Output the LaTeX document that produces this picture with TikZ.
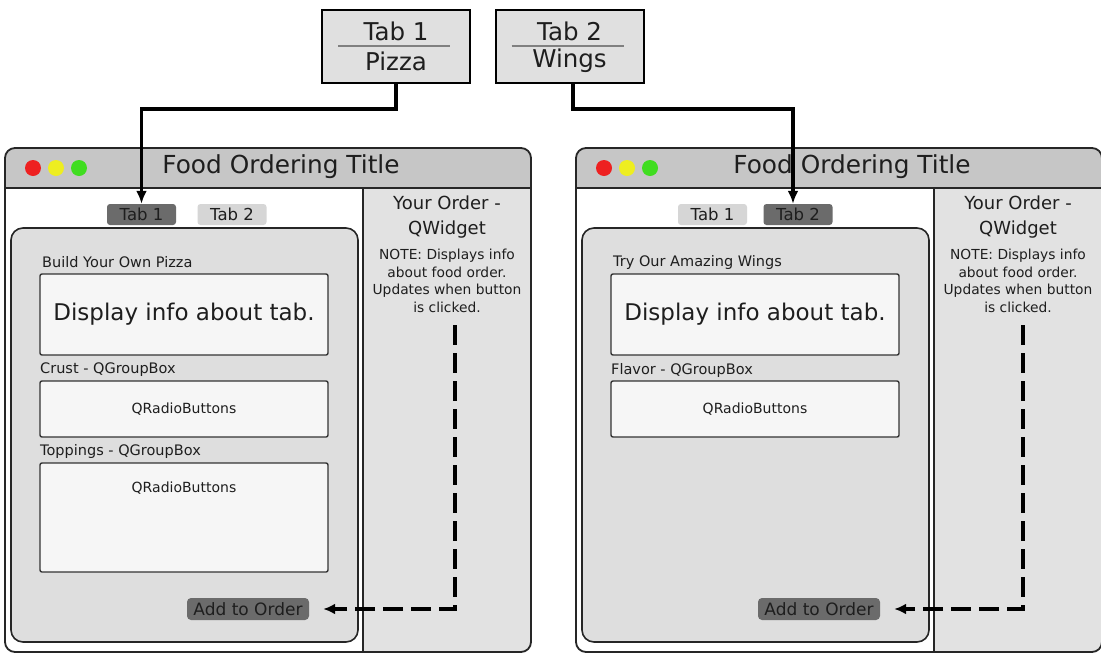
\documentclass[tikz,border=0pt]{standalone}
\usepackage{fontspec}
\setmainfont{DejaVu Sans}
\usepackage{tikz}
\usetikzlibrary{arrows.meta,positioning}
\usepackage{xcolor}
\definecolor{barGray}{HTML}{C6C6C6}
\definecolor{panelGray}{HTML}{E2E2E2}
\definecolor{innerGray}{HTML}{DEDEDE}
\definecolor{cardGray}{HTML}{E0E0E0}
\definecolor{boxWhite}{HTML}{F6F6F6}
\definecolor{activeTab}{HTML}{6B6B6B}
\definecolor{idleTab}{HTML}{D6D6D6}
\definecolor{inkGray}{HTML}{1E1E1E}
\definecolor{lightRed}{HTML}{EE2020}
\definecolor{lightYellow}{HTML}{EEEE20}
\definecolor{lightGreen}{HTML}{40DD20}

\begin{document}
\begin{tikzpicture}[x=1pt, y=-1pt,
        text=inkGray,
        tabcard/.style={rectangle, draw=black, line width=2pt, fill=cardGray, minimum width=148pt, minimum height=73pt},
        cardtext/.style={font=\fontsize{24.5}{28}\selectfont},
        frame/.style={draw=black!85, line width=1.8pt},
        wintitle/.style={font=\fontsize{24.8}{29}\selectfont},
        tabon/.style={rectangle, rounded corners=3pt, fill=activeTab, minimum width=69pt, minimum height=21pt, inner sep=0pt, font=\fontsize{16.5}{19}\selectfont},
        taboff/.style={tabon, fill=idleTab},
        panel/.style={draw=black!85, line width=1.6pt, fill=innerGray, rounded corners=12pt},
        smalltext/.style={anchor=west, inner sep=0pt, font=\fontsize{14.5}{17}\selectfont},
        infobox/.style={rectangle, rounded corners=2pt, draw=black!80, line width=1.4pt, fill=boxWhite, minimum width=288pt, inner sep=0pt},
        addbtn/.style={rectangle, rounded corners=4pt, fill=activeTab, minimum width=122pt, minimum height=22pt, inner sep=0pt, font=\fontsize{17}{20}\selectfont},
        ordertext/.style={align=center, font=\fontsize{18}{25}\selectfont},
        notetext/.style={align=center, font=\fontsize{13.8}{17.5}\selectfont},
        conn/.style={-{Latex[length=13pt,width=11pt]}, line width=3.4pt, black},
        dasharr/.style={-{Latex[length=12pt,width=11pt]}, line width=3.6pt, black, dash pattern=on 20pt off 8pt, shorten >=14pt},
    ]
    \useasboundingbox (0,0) rectangle (1101,654);

    % Tab cards (top)
    \node[tabcard] (pizzacard) at (396,46.5) {};
    \node[tabcard] (wingscard) at (569.5,46.5) {};
    \node[cardtext] (pizzatab) at (396,31) {Tab 1};
    \node[cardtext] (pizzaname) at (396,61) {Pizza};
    \node[cardtext] (wingstab) at (569.5,31) {Tab 2};
    \node[cardtext] (wingsname) at (569.5,61) {Wings};
    \draw[gray, line width=1.3pt] (338,46) -- (450,46);
    \draw[gray, line width=1.3pt] (511.5,46) -- (623.5,46);

    % Left window
    \begin{scope}
        \clip[rounded corners=10pt] (5,148) rectangle (531,652);
        \fill[white] (5,148) rectangle (531,652);
        \fill[barGray] (5,148) rectangle (531,188);
        \fill[panelGray] (363,188) rectangle (531,652);
    \end{scope}
    \draw[frame] (5,188) -- (531,188);
    \draw[frame] (363,188) -- (363,652);
    \draw[frame, rounded corners=10pt] (5,148) rectangle (531,652);
    \fill[lightRed] (33,168) circle (8pt);
    \fill[lightYellow] (56,168) circle (8pt);
    \fill[lightGreen] (79,168) circle (8pt);
    \node[wintitle] (ltitle) at (281,167) {Food Ordering Title};

    \node[tabon] (ltabone) at (141.5,214.5) {Tab 1};
    \node[taboff] (ltabtwo) at (232,214.5) {Tab 2};
    \draw[panel] (11,228) rectangle (358,642);

    \node[smalltext] (lhead) at (42,262) {Build Your Own Pizza};
    \node[infobox, minimum height=81pt, font=\fontsize{23}{27}\selectfont] (ldisp) at (184,314.5) {Display info about tab.};
    \node[smalltext] (lcrustlbl) at (40,370) {Crust - QGroupBox};
    \node[infobox, minimum height=56pt, font=\fontsize{14}{17}\selectfont] (lcrust) at (184,409) {QRadioButtons};
    \node[smalltext] (ltoplbl) at (40,451) {Toppings - QGroupBox};
    \node[infobox, minimum height=109pt] (ltop) at (184,517.5) {};
    \node[font=\fontsize{14}{17}\selectfont] (ltopradio) at (184,488) {QRadioButtons};
    \node[addbtn] (ladd) at (248,609) {Add to Order};

    \node[ordertext] (lorder) at (447,217) {Your Order -\\QWidget};
    \node[notetext] (lnote) at (447,281) {NOTE: Displays info\\about food order.\\Updates when button\\is clicked.};
    \coordinate (ldash) at (455,325);

    % Right window
    \begin{scope}[xshift=571pt]
        \begin{scope}
            \clip[rounded corners=10pt] (5,148) rectangle (531,652);
            \fill[white] (5,148) rectangle (531,652);
            \fill[barGray] (5,148) rectangle (531,188);
            \fill[panelGray] (363,188) rectangle (531,652);
        \end{scope}
        \draw[frame] (5,188) -- (531,188);
        \draw[frame] (363,188) -- (363,652);
        \draw[frame, rounded corners=10pt] (5,148) rectangle (531,652);
        \fill[lightRed] (33,168) circle (8pt);
        \fill[lightYellow] (56,168) circle (8pt);
        \fill[lightGreen] (79,168) circle (8pt);
        \node[wintitle] (rtitle) at (281,167) {Food Ordering Title};

        \node[taboff] (rtabone) at (141.5,214.5) {Tab 1};
        \node[tabon] (rtabtwo) at (227,214.5) {Tab 2};
        \draw[panel] (11,228) rectangle (358,642);

        \node[smalltext] (rhead) at (42,262) {Try Our Amazing Wings};
        \node[infobox, minimum height=81pt, font=\fontsize{23}{27}\selectfont] (rdisp) at (184,314.5) {Display info about tab.};
        \node[smalltext] (rflavlbl) at (40,370) {Flavor - QGroupBox};
        \node[infobox, minimum height=56pt, font=\fontsize{14}{17}\selectfont] (rflav) at (184,409) {QRadioButtons};
        \node[addbtn] (radd) at (248,609) {Add to Order};

        \node[ordertext] (rorder) at (447,217) {Your Order -\\QWidget};
        \node[notetext] (rnote) at (447,281) {NOTE: Displays info\\about food order.\\Updates when button\\is clicked.};
        \coordinate (rdash) at (452,325);
    \end{scope}

    % Tab cards to tabs
    \draw[conn] (pizzacard.south) -- ++(0,25) -| (ltabone.north);
    \draw[conn] ([xshift=3.5pt]wingscard.south) -- ++(0,25) -| ([xshift=-5pt]rtabtwo.north);

    % Buttons update the order panel
    \draw[dasharr] (ldash) |- (ladd.east);
    \draw[dasharr] (rdash) |- (radd.east);
\end{tikzpicture}
\end{document}
